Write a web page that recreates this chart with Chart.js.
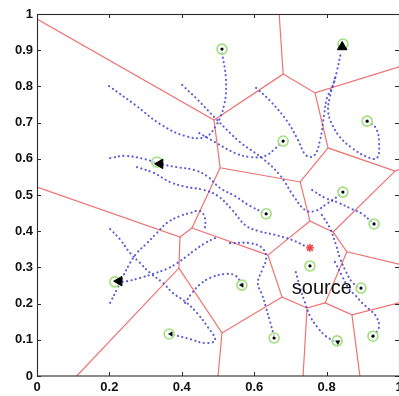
<!DOCTYPE html>
<html>
<head>
<meta charset="utf-8">
<script src="https://cdn.jsdelivr.net/npm/chart.js@4.4.0/dist/chart.umd.min.js"></script>
<style>
    html, body { margin: 0; padding: 0; background: #fff; overflow: hidden; }
    #wrap { width: 399px; height: 396px; overflow: hidden; }
</style>
</head>
<body>
<div id="wrap"><canvas id="chart" width="420" height="396"></canvas></div>
<script>
// Axis ticks
const xTicks = [0, 0.2, 0.4, 0.6, 0.8, 1];
const yTicks = [0, 0.1, 0.2, 0.3, 0.4, 0.5, 0.6, 0.7, 0.8, 0.9, 1];

// Voronoi cell edges (polylines)
const voronoiEdges = [
    [[0, 0.986], [0.489, 0.707], [0.680, 0.834], [0.669, 1.0]],
    [[0.680, 0.834], [0.768, 0.782], [1.0, 0.854]],
    [[0.768, 0.782], [0.804, 0.630], [0.989, 0.566], [1.0, 0.570]],
    [[0.489, 0.707], [0.506, 0.575], [0.727, 0.536], [0.804, 0.630]],
    [[0.727, 0.536], [0.754, 0.428], [0.818, 0.398], [0.989, 0.566]],
    [[0.818, 0.398], [0.856, 0.343], [1.0, 0.309]],
    [[0.856, 0.343], [0.796, 0.202], [0.870, 0.169], [1.0, 0.202]],
    [[0.870, 0.169], [0.892, 0]],
    [[0.796, 0.202], [0.746, 0.188], [0.735, 0]],
    [[0.746, 0.188], [0.677, 0.218], [0.638, 0.334], [0.754, 0.428]],
    [[0.638, 0.334], [0.428, 0.409], [0.506, 0.575]],
    [[0.428, 0.409], [0.395, 0.384], [0, 0.522]],
    [[0.395, 0.384], [0.392, 0.298], [0.110, 0]],
    [[0.392, 0.298], [0.511, 0.119], [0.500, 0]],
    [[0.511, 0.119], [0.677, 0.218]]
];

// Node trajectories (dotted paths)
const trajectories = [
    [[0.199, 0.801], [0.271, 0.749], [0.340, 0.696], [0.409, 0.663], [0.464, 0.660], [0.494, 0.691], [0.517, 0.749], [0.522, 0.818], [0.511, 0.895]],
    [[0.401, 0.804], [0.445, 0.762], [0.492, 0.713], [0.561, 0.646], [0.622, 0.602], [0.671, 0.555], [0.707, 0.500], [0.740, 0.459], [0.768, 0.456], [0.804, 0.478], [0.845, 0.506]],
    [[0.448, 0.671], [0.492, 0.646], [0.547, 0.616], [0.588, 0.605], [0.630, 0.608], [0.660, 0.630], [0.680, 0.649]],
    [[0.605, 0.796], [0.644, 0.760], [0.691, 0.704], [0.721, 0.652], [0.743, 0.610], [0.765, 0.608], [0.782, 0.652], [0.793, 0.721], [0.801, 0.768], [0.818, 0.804], [0.829, 0.845], [0.840, 0.895]],
    [[0.823, 0.823], [0.809, 0.771], [0.804, 0.735], [0.812, 0.702], [0.837, 0.660], [0.870, 0.630], [0.912, 0.605], [0.939, 0.602], [0.945, 0.644], [0.936, 0.685], [0.912, 0.704]],
    [[0.202, 0.602], [0.243, 0.608], [0.298, 0.599], [0.340, 0.586], [0.387, 0.577], [0.434, 0.569], [0.470, 0.552], [0.506, 0.519], [0.547, 0.497], [0.588, 0.470], [0.633, 0.448]],
    [[0.276, 0.577], [0.323, 0.561], [0.367, 0.536], [0.414, 0.522], [0.461, 0.514], [0.500, 0.497], [0.539, 0.459], [0.575, 0.417], [0.610, 0.401], [0.657, 0.390], [0.704, 0.376], [0.746, 0.356]],
    [[0.202, 0.406], [0.229, 0.378], [0.257, 0.340], [0.285, 0.312], [0.312, 0.285], [0.348, 0.257], [0.376, 0.229], [0.414, 0.202], [0.442, 0.174], [0.472, 0.135], [0.492, 0.099], [0.464, 0.091], [0.423, 0.102], [0.381, 0.113]],
    [[0.202, 0.202], [0.221, 0.240], [0.238, 0.276], [0.257, 0.312], [0.276, 0.340], [0.304, 0.367], [0.331, 0.395], [0.359, 0.423], [0.395, 0.442], [0.423, 0.450], [0.450, 0.456], [0.464, 0.436], [0.464, 0.409]],
    [[0.492, 0.381], [0.464, 0.367], [0.436, 0.348], [0.414, 0.331], [0.387, 0.312], [0.359, 0.296], [0.320, 0.282], [0.285, 0.271], [0.249, 0.262], [0.224, 0.260]],
    [[0.409, 0.202], [0.428, 0.229], [0.448, 0.251], [0.478, 0.271], [0.522, 0.282], [0.550, 0.276], [0.566, 0.251]],
    [[0.533, 0.367], [0.588, 0.367], [0.622, 0.354], [0.633, 0.326], [0.622, 0.293], [0.610, 0.257], [0.622, 0.224], [0.633, 0.188], [0.644, 0.149], [0.655, 0.110]],
    [[0.760, 0.514], [0.796, 0.492], [0.834, 0.478], [0.870, 0.461], [0.898, 0.448], [0.925, 0.425]],
    [[0.787, 0.445], [0.809, 0.409], [0.826, 0.362], [0.837, 0.326], [0.854, 0.287], [0.870, 0.260], [0.887, 0.246]],
    [[0.823, 0.315], [0.843, 0.276], [0.862, 0.240], [0.881, 0.221], [0.898, 0.202], [0.917, 0.185], [0.936, 0.166], [0.945, 0.138], [0.936, 0.119], [0.928, 0.110]],
    [[0.715, 0.287], [0.727, 0.243], [0.740, 0.204], [0.754, 0.166], [0.776, 0.133], [0.798, 0.110], [0.820, 0.097]]
];

// Final node positions (green circles)
const nodeX = [0.511, 0.845, 0.680, 0.912, 0.331, 0.845, 0.633, 0.931, 0.754, 0.566, 0.895, 0.215, 0.365, 0.655, 0.829, 0.928];
const nodeY = [0.903, 0.917, 0.649, 0.704, 0.591, 0.508, 0.448, 0.420, 0.304, 0.251, 0.243, 0.260, 0.116, 0.105, 0.097, 0.110];

// Nodes drawn with a centre dot
const dotX = [0.511, 0.680, 0.912, 0.845, 0.633, 0.931, 0.754, 0.895, 0.655, 0.928];
const dotY = [0.903, 0.649, 0.704, 0.508, 0.448, 0.420, 0.304, 0.243, 0.105, 0.110];

// Heading arrows: x, y, heading in degrees (0 = up)
const bigArrows = [[0.843, 0.909, 0], [0.340, 0.586, 270], [0.227, 0.262, 270]];
const smallArrows = [[0.566, 0.251, 270], [0.370, 0.116, 270], [0.831, 0.094, 300]];

// Source position and label
const sourcePoint = [0.754, 0.354];
const sourceLabel = 'source';
const sourceLabelAt = [0.704, 0.227];

const toPoints = (xs, ys) => xs.map((x, i) => ({ x: x, y: ys[i] }));
const pairs = list => list.map(p => ({ x: p[0], y: p[1] }));

const datasets = [];

// Voronoi edges
voronoiEdges.forEach(edge => {
    datasets.push({
        data: pairs(edge),
        showLine: true,
        borderColor: 'rgba(236, 100, 100, 0.9)',
        borderWidth: 1.2,
        pointRadius: 0,
        tension: 0,
        order: 3
    });
});

// Trajectories
trajectories.forEach(path => {
    datasets.push({
        data: pairs(path),
        showLine: true,
        borderColor: 'rgba(65, 65, 210, 0.85)',
        borderWidth: 2.1,
        borderDash: [0.2, 4.3],
        borderCapStyle: 'round',
        pointRadius: 0,
        tension: 0.4,
        order: 2
    });
});

// Green node circles
datasets.push({
    data: toPoints(nodeX, nodeY),
    pointStyle: 'circle',
    pointRadius: 5,
    borderColor: '#9fe07c',
    borderWidth: 1.6,
    backgroundColor: 'rgba(255,255,255,0.6)',
    order: 1
});

// Centre dots
datasets.push({
    data: toPoints(dotX, dotY),
    pointStyle: 'circle',
    pointRadius: 1.6,
    borderWidth: 0,
    backgroundColor: '#000',
    order: 0
});

// Arrows
datasets.push({
    data: pairs(bigArrows),
    pointStyle: 'triangle',
    pointRadius: 5.5,
    rotation: bigArrows.map(a => a[2]),
    backgroundColor: '#000',
    borderColor: '#000',
    borderWidth: 1,
    order: 0
});
datasets.push({
    data: pairs(smallArrows),
    pointStyle: 'triangle',
    pointRadius: 2.5,
    rotation: smallArrows.map(a => a[2]),
    backgroundColor: '#000',
    borderColor: '#000',
    borderWidth: 0.5,
    order: 0
});

// Source star
datasets.push({
    data: [{ x: sourcePoint[0], y: sourcePoint[1] }],
    pointStyle: 'circle',
    pointRadius: 3,
    borderWidth: 0,
    backgroundColor: 'rgba(240, 90, 90, 0.55)',
    order: 0
});
datasets.push({
    data: [{ x: sourcePoint[0], y: sourcePoint[1] }],
    pointStyle: 'star',
    pointRadius: 4,
    borderColor: '#e83030',
    borderWidth: 1.3,
    order: 0
});

/**
 * Box frame with inward tick marks plus the source label
 */
const framePlugin = {
    id: 'frame',
    afterDatasetsDraw(chart) {
        const { ctx, chartArea: a, scales } = chart;
        ctx.save();
        ctx.strokeStyle = '#2a2a2a';
        ctx.lineWidth = 1.1;
        ctx.strokeRect(a.left + 0.5, a.top + 0.5, a.right - a.left, a.bottom - a.top - 0.5);

        ctx.lineWidth = 1;
        ctx.beginPath();
        xTicks.forEach(v => {
            const px = Math.round(scales.x.getPixelForValue(v)) + 0.5;
            ctx.moveTo(px, a.bottom); ctx.lineTo(px, a.bottom - 4);
            ctx.moveTo(px, a.top); ctx.lineTo(px, a.top + 4);
        });
        yTicks.forEach(v => {
            const py = Math.round(scales.y.getPixelForValue(v)) + 0.5;
            ctx.moveTo(a.left, py); ctx.lineTo(a.left + 4, py);
            ctx.moveTo(a.right, py); ctx.lineTo(a.right - 4, py);
        });
        ctx.stroke();

        // Source label
        ctx.fillStyle = '#111';
        ctx.font = '20px "Liberation Sans", Arial, sans-serif';
        ctx.textBaseline = 'alphabetic';
        ctx.fillText(sourceLabel,
            scales.x.getPixelForValue(sourceLabelAt[0]),
            scales.y.getPixelForValue(sourceLabelAt[1]));
        ctx.restore();
    }
};

const tickFont = { family: '"Liberation Sans", Arial, sans-serif', size: 13, weight: 'bold' };
const fmt = v => (v === 0 || v === 1) ? String(v) : v.toFixed(1);

new Chart(document.getElementById('chart'), {
    type: 'scatter',
    data: { datasets: datasets },
    options: {
        responsive: false,
        animation: false,
        layout: { padding: { top: 14, right: 21, left: 0, bottom: 0 } },
        plugins: {
            legend: { display: false },
            tooltip: { enabled: false }
        },
        scales: {
            x: {
                type: 'linear',
                min: 0,
                max: 1,
                afterBuildTicks: s => { s.ticks = xTicks.map(v => ({ value: v })); },
                afterFit: s => { s.height = 20; },
                grid: { display: false, drawTicks: false },
                border: { display: false },
                ticks: {
                    padding: 4,
                    color: '#111',
                    font: tickFont,
                    maxRotation: 0,
                    callback: v => fmt(v)
                }
            },
            y: {
                type: 'linear',
                min: 0,
                max: 1,
                afterBuildTicks: s => { s.ticks = yTicks.map(v => ({ value: v })); },
                afterFit: s => { s.width = 37; },
                grid: { display: false, drawTicks: false },
                border: { display: false },
                ticks: {
                    padding: 4,
                    color: '#111',
                    font: tickFont,
                    callback: v => fmt(v)
                }
            }
        }
    },
    plugins: [framePlugin]
});
</script>
</body>
</html>
